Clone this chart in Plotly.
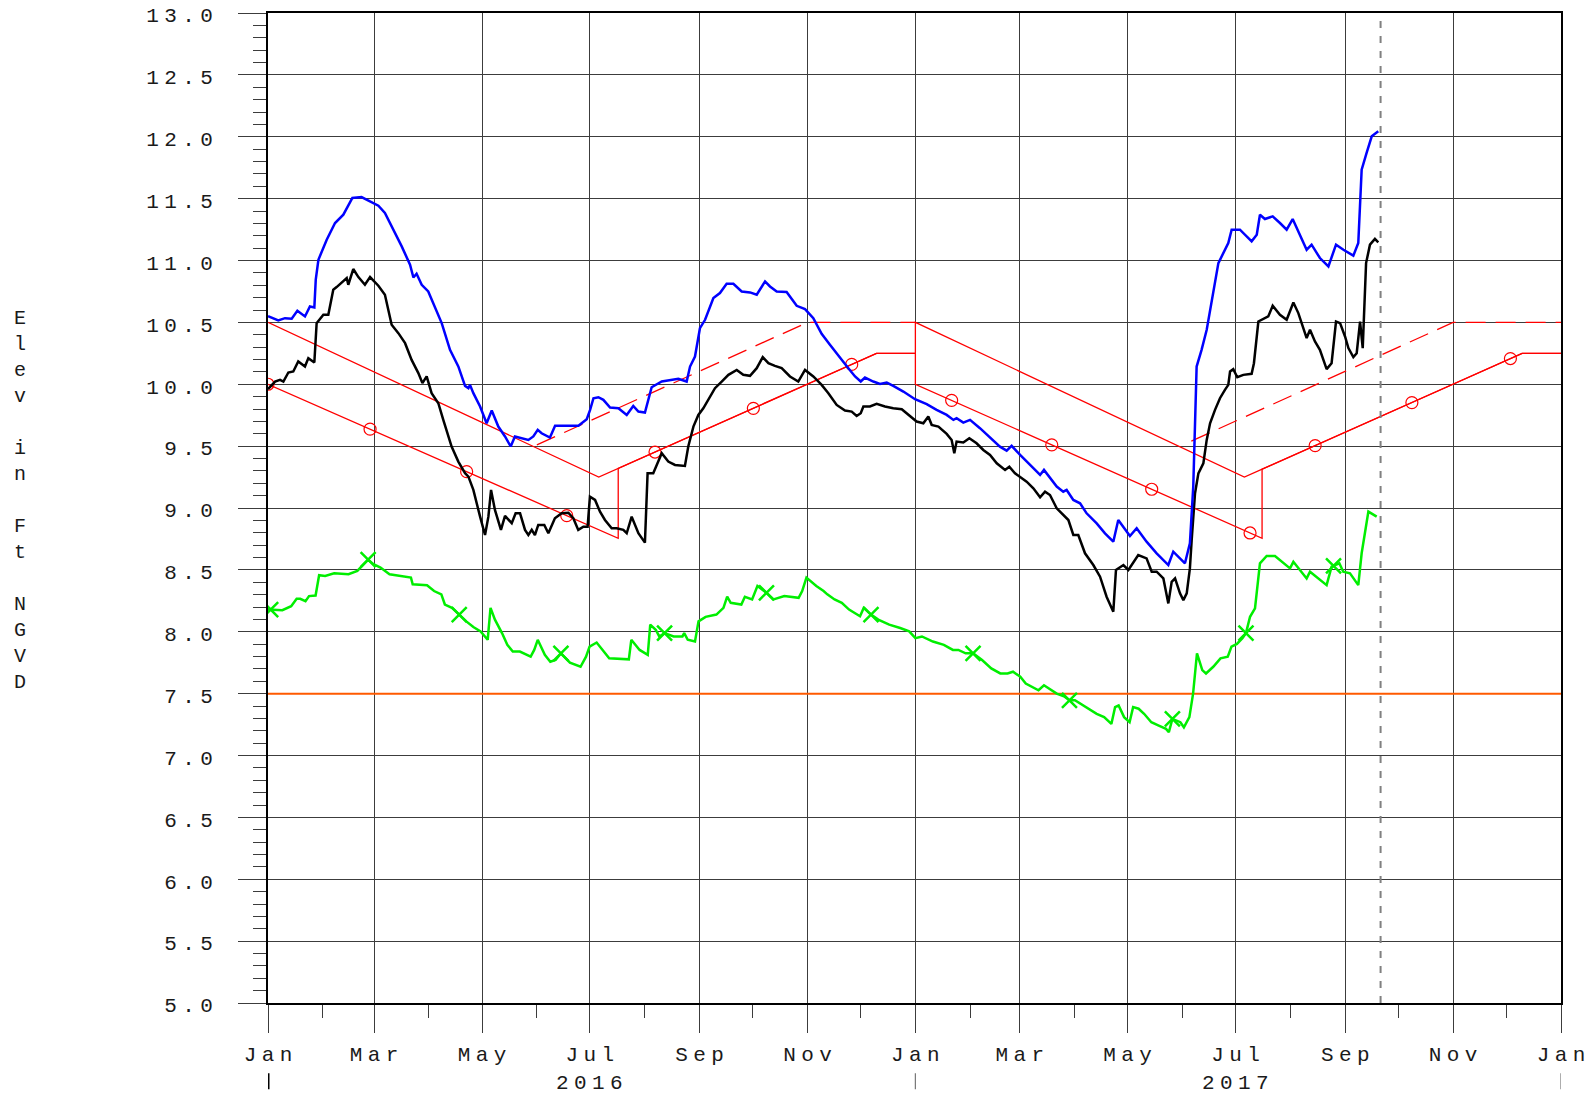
import numpy as np
import pandas as pd
import plotly.graph_objects as go

START = pd.Timestamp("2016-01-01")

# ---- daily stage records: days since 2016-01-01, elevation (ft NGVD) ----
blue_days = [0, 5.8, 9.6, 13.4, 16.6, 20.9, 23.7, 26.2, 27.0, 28.5, 33.2, 37.9, 42.6, 45.4, 47.7,
             52.9, 58.6, 62.4, 66.1, 70.9, 75.6, 80.3, 82.2, 84.0, 86.9, 90.6, 94.4, 98.2, 102.9,
             107.6, 111.4, 113.3, 114.2, 116.1, 119.9, 123.6, 126.5, 130.2, 134.0, 137.2, 139.6,
             143.4, 147.2, 150.0, 152.5, 154.7, 159.4, 162.3, 175.5, 180.2, 182.1, 184.0, 186.8,
             189.6, 193.4, 198.1, 202.8, 206.5, 209.4, 213.1, 216.9, 222.6, 227.3, 232.0, 236.7,
             238.6, 241.4, 244.2, 247.1, 251.8, 255.5, 259.3, 263.1, 267.8, 272.5, 276.3, 281.0,
             283.8, 287.6, 293.2, 298.9, 303.6, 308.3, 313.0, 317.7, 323.4, 328.1, 331.9, 335.1,
             337.5, 342.2, 346.0, 349.8, 353.5, 359.2, 365.8, 368.6, 372.4, 378.0, 383.7, 387.5,
             389.3, 393.1, 396.9, 402.5, 408.2, 413.8, 417.6, 420.4, 425.2, 430.8, 436.5, 438.7,
             442.1, 445.9, 449.6, 451.5, 455.3, 459.1, 462.8, 468.5, 473.2, 477.9, 480.7, 487.3,
             491.1, 496.7, 502.4, 509.0, 511.8, 518.4, 521.2, 523.1, 525.0, 527.8, 530.7, 534.4,
             537.3, 542.9, 544.8, 549.5, 553.3, 556.1, 559.0, 560.8, 563.6, 568.0, 572.1, 575.9,
             579.3, 582.5, 587.2, 590.0, 594.7, 599.5, 603.8, 608.0, 613.6, 616.4, 618.3, 621.1,
             624.0, 627.7]
blue_elev = [10.55, 10.515, 10.534, 10.529, 10.594, 10.548, 10.629, 10.621, 10.845, 11.006, 11.168,
             11.303, 11.370, 11.438, 11.505, 11.513, 11.470, 11.443, 11.384, 11.249, 11.114, 10.966,
             10.863, 10.893, 10.804, 10.750, 10.629, 10.494, 10.278, 10.144, 9.987, 9.968, 9.995,
             9.928, 9.820, 9.685, 9.788, 9.658, 9.578, 9.497, 9.578, 9.564, 9.550, 9.578, 9.631,
             9.604, 9.569, 9.664, 9.664, 9.717, 9.793, 9.887, 9.895, 9.874, 9.812, 9.806, 9.752,
             9.825, 9.779, 9.771, 9.976, 10.022, 10.036, 10.044, 10.022, 10.143, 10.224, 10.453,
             10.521, 10.696, 10.737, 10.812, 10.812, 10.750, 10.742, 10.723, 10.831, 10.790, 10.750,
             10.745, 10.634, 10.607, 10.534, 10.408, 10.319, 10.211, 10.130, 10.063, 10.022, 10.054,
             10.022, 10.003, 10.014, 9.987, 9.941, 9.879, 9.860, 9.839, 9.793, 9.752, 9.712, 9.726,
             9.690, 9.712, 9.645, 9.572, 9.496, 9.464, 9.502, 9.429, 9.348, 9.267, 9.308, 9.240,
             9.173, 9.132, 9.146, 9.065, 9.038, 8.957, 8.876, 8.795, 8.728, 8.903, 8.774, 8.836,
             8.728, 8.634, 8.539, 8.647, 8.553, 8.714, 9.173, 10.143, 10.278, 10.440, 10.737,
             10.979, 11.141, 11.249, 11.249, 11.195, 11.155, 11.208, 11.370, 11.335, 11.357, 11.303,
             11.249, 11.335, 11.235, 11.087, 11.128, 11.020, 10.952, 11.128, 11.087, 11.039, 11.141,
             11.734, 11.869, 12.004, 12.044]

black_days = [0, 4.0, 6.8, 8.7, 11.5, 14.3, 17.1, 20.9, 22.8, 26.2, 27.5, 31.3, 34.1, 36.9, 38.8,
              41.3, 44.5, 45.4, 48.2, 51.1, 54.8, 57.7, 62.4, 66.1, 69.9, 73.7, 77.5, 81.2, 85.0,
              87.3, 89.7, 92.5, 96.3, 99.1, 103.8, 107.6, 111.4, 113.3, 116.1, 119.9, 122.7, 124.6,
              126.1, 128.3, 131.7, 134.0, 137.8, 140.0, 142.5, 145.3, 147.2, 149.1, 150.9, 152.8,
              156.2, 158.5, 162.2, 166.0, 169.8, 172.6, 175.4, 178.3, 180.7, 182.0, 184.9, 187.7,
              190.5, 194.3, 197.1, 200.9, 202.8, 205.6, 209.4, 213.1, 214.6, 217.8, 222.6, 226.3,
              230.1, 235.7, 237.6, 240.5, 243.3, 246.1, 249.9, 252.7, 256.5, 260.3, 265.0, 268.7,
              272.5, 276.3, 279.7, 282.9, 286.6, 290.4, 295.1, 299.8, 303.6, 308.3, 313.0, 316.8,
              321.5, 326.2, 330.0, 332.8, 335.1, 336.6, 340.3, 344.1, 348.8, 353.5, 358.3, 363.0,
              366.7, 370.5, 373.3, 375.2, 379.0, 383.7, 386.5, 388.0, 389.3, 393.1, 396.5, 400.6,
              404.4, 408.2, 412.0, 416.7, 419.1, 422.3, 426.1, 428.9, 432.7, 436.5, 439.3, 442.1,
              445.9, 449.6, 452.5, 455.3, 458.1, 461.9, 466.6, 470.4, 474.1, 477.9, 479.4, 483.6,
              486.4, 492.0, 496.7, 499.6, 502.4, 506.2, 509.0, 510.9, 512.8, 515.6, 517.5, 519.4,
              521.2, 522.2, 524.1, 526.0, 528.8, 530.7, 532.6, 535.4, 538.2, 541.0, 542.9, 543.9,
              545.7, 548.0, 551.4, 556.1, 557.4, 559.9, 562.7, 565.5, 568.0, 572.1, 575.9, 579.7,
              582.5, 585.3, 587.2, 589.1, 591.9, 594.7, 598.5, 601.3, 603.8, 606.1, 608.9, 610.8,
              613.6, 615.5, 617.4, 618.9, 620.8, 623.0, 625.8, 627.7]
black_elev = [9.96, 10.022, 10.036, 10.022, 10.095, 10.103, 10.184, 10.144, 10.211, 10.176, 10.494,
              10.561, 10.561, 10.764, 10.785, 10.818, 10.858, 10.804, 10.931, 10.866, 10.804, 10.866,
              10.796, 10.723, 10.481, 10.413, 10.332, 10.197, 10.090, 10.009, 10.063, 9.928, 9.847,
              9.712, 9.497, 9.375, 9.281, 9.254, 9.146, 8.930, 8.782, 8.930, 9.146, 8.984, 8.823,
              8.936, 8.877, 8.957, 8.957, 8.823, 8.782, 8.823, 8.782, 8.863, 8.863, 8.796, 8.917,
              8.957, 8.962, 8.917, 8.823, 8.849, 8.849, 9.092, 9.065, 8.970, 8.903, 8.836, 8.836,
              8.823, 8.796, 8.930, 8.796, 8.720, 9.281, 9.281, 9.442, 9.375, 9.348, 9.340, 9.497,
              9.658, 9.752, 9.806, 9.901, 9.968, 10.022, 10.076, 10.116, 10.076, 10.068, 10.130,
              10.219, 10.170, 10.149, 10.130, 10.063, 10.022, 10.116, 10.063, 9.995, 9.928, 9.833,
              9.787, 9.779, 9.744, 9.766, 9.820, 9.820, 9.841, 9.820, 9.806, 9.798, 9.739, 9.699,
              9.685, 9.739, 9.672, 9.658, 9.599, 9.550, 9.442, 9.537, 9.529, 9.564, 9.523, 9.469,
              9.429, 9.361, 9.308, 9.334, 9.281, 9.240, 9.213, 9.159, 9.087, 9.132, 9.105, 8.997,
              8.943, 8.903, 8.782, 8.782, 8.634, 8.539, 8.445, 8.283, 8.162, 8.499, 8.539, 8.499,
              8.620, 8.593, 8.485, 8.485, 8.431, 8.229, 8.404, 8.431, 8.310, 8.256, 8.310, 8.512,
              8.741, 9.119, 9.280, 9.361, 9.550, 9.685, 9.793, 9.887, 9.955, 9.995, 10.103, 10.122,
              10.057, 10.076, 10.084, 10.170, 10.507, 10.526, 10.548, 10.634, 10.561, 10.521, 10.661,
              10.575, 10.453, 10.373, 10.440, 10.346, 10.278, 10.122, 10.170, 10.507, 10.494, 10.386,
              10.292, 10.219, 10.251, 10.507, 10.292, 10.979, 11.128, 11.174, 11.146]

green_days = [0, 3.0, 8.1, 13.1, 16.2, 18.2, 21.2, 23.2, 26.9, 28.9, 32.3, 37.4, 45.5, 50.5, 53.5,
              56.6, 59.6, 63.6, 68.7, 75.8, 80.8, 81.8, 89.9, 93.9, 98.0, 100.0, 104.0, 108.1, 112.1,
              116.1, 120.2, 124.2, 125.8, 128.3, 132.3, 135.3, 138.4, 142.4, 148.5, 150.5, 152.5,
              156.5, 159.6, 162.6, 165.6, 170.7, 176.7, 179.8, 181.8, 185.8, 189.9, 192.9, 204.0,
              205.4, 210.1, 214.7, 216.1, 219.2, 221.2, 224.2, 229.3, 234.3, 235.3, 237.3, 241.4,
              243.4, 247.4, 253.5, 257.5, 259.6, 261.6, 267.6, 269.6, 273.7, 276.7, 281.8, 285.8,
              291.9, 300.0, 302.0, 304.4, 310.0, 314.1, 316.2, 320.3, 324.4, 328.5, 332.6, 334.7,
              336.8, 340.9, 345.0, 351.2, 357.4, 362.5, 366.0, 369.7, 375.9, 382.1, 387.2, 390.3,
              394.4, 398.6, 403.7, 408.9, 414.0, 418.1, 421.2, 425.3, 428.4, 432.5, 435.6, 438.7,
              441.8, 445.9, 450.0, 453.1, 456.2, 459.3, 463.4, 468.5, 472.7, 476.8, 478.9, 480.9,
              484.0, 487.1, 489.1, 492.2, 495.3, 499.4, 503.6, 507.7, 509.3, 511.3, 515.8, 517.8,
              520.9, 523.0, 525.2, 528.2, 530.3, 534.4, 538.5, 542.6, 544.7, 547.8, 550.9, 552.9,
              555.2, 558.0, 560.8, 564.6, 569.3, 574.0, 577.8, 579.7, 583.4, 587.2, 589.1, 593.8,
              598.5, 601.3, 605.7, 607.9, 611.7, 616.4, 618.3, 622.1, 626.8]
green_elev = [8.18, 8.179, 8.174, 8.207, 8.266, 8.266, 8.247, 8.288, 8.293, 8.457, 8.451, 8.473,
              8.465, 8.492, 8.533, 8.582, 8.546, 8.519, 8.465, 8.446, 8.438, 8.383, 8.375, 8.329,
              8.302, 8.220, 8.193, 8.139, 8.084, 8.038, 8.003, 7.935, 8.193, 8.098, 7.989, 7.894,
              7.840, 7.840, 7.799, 7.853, 7.935, 7.813, 7.758, 7.772, 7.826, 7.750, 7.717, 7.799,
              7.880, 7.913, 7.840, 7.785, 7.777, 7.935, 7.853, 7.813, 8.057, 8.016, 7.962, 7.989,
              7.962, 7.962, 7.989, 7.935, 7.921, 8.084, 8.120, 8.139, 8.193, 8.283, 8.234, 8.220,
              8.283, 8.261, 8.370, 8.315, 8.261, 8.288, 8.274, 8.329, 8.438, 8.370, 8.329, 8.302,
              8.261, 8.234, 8.179, 8.139, 8.125, 8.193, 8.139, 8.098, 8.057, 8.030, 8.003, 7.948,
              7.962, 7.921, 7.894, 7.853, 7.853, 7.826, 7.826, 7.772, 7.704, 7.663, 7.663, 7.677,
              7.636, 7.582, 7.554, 7.527, 7.568, 7.541, 7.500, 7.478, 7.446, 7.446, 7.418, 7.378,
              7.337, 7.310, 7.255, 7.391, 7.405, 7.310, 7.269, 7.391, 7.378, 7.337, 7.269, 7.242,
              7.215, 7.188, 7.296, 7.269, 7.228, 7.310, 7.500, 7.826, 7.690, 7.663, 7.717, 7.785,
              7.799, 7.880, 7.902, 7.948, 7.989, 8.121, 8.189, 8.553, 8.612, 8.612, 8.553, 8.512,
              8.566, 8.499, 8.431, 8.485, 8.431, 8.377, 8.526, 8.553, 8.485, 8.472, 8.377, 8.634,
              8.971, 8.930]
green_marker_days = [1.5, 56.6, 108.1, 165.6, 224.2, 281.8, 340.9, 398.6, 453.1, 511.3, 552.9, 602.4]

# ---- regulation schedule lines ----
upper_dates = ["2016-01-01", "2016-07-06", "2016-11-01", "2016-12-10", "2017-01-01", "2017-01-01",
               "2017-07-06", "2017-11-01", "2017-12-10", "2018-01-01"]
upper_elev = [10.5, 9.25, 10.0, 10.25, 10.25, 10.5, 9.25, 10.0, 10.25, 10.25]

lower_dates = ["2016-01-01", "2016-07-17", "2016-07-17", "2016-11-01", "2016-12-10", "2017-01-01",
               "2017-01-01", "2017-07-16", "2017-07-16", "2017-11-01", "2017-12-10", "2018-01-01"]
lower_elev = [10.0, 8.755, 9.32, 10.0, 10.25, 10.25, 10.0, 8.755, 9.313, 10.0, 10.25, 10.25]
circle_days = [0, 57.7, 112.3, 168.9, 218.8, 274.4, 330.0, 386.5, 443.1, 499.6, 555.2, 592.0,
               646.7, 702.4]

dashed_dates = ["2016-06-01", "2016-11-01", "2017-01-01", None, "2017-06-06", "2017-11-01",
                "2018-01-01"]
dashed_elev = [9.51, 10.5, 10.5, None, 9.54, 10.5, 10.5]

floor_elev = 7.5
cutoff_date = "2017-09-21"

# ---- axis ticks ----
y_major = [5.0 + 0.5 * i for i in range(17)]
month_ticks = pd.date_range("2016-01-01", "2018-01-01", freq="2MS")
month_minor = pd.date_range("2016-02-01", "2017-12-01", freq="2MS")
month_labels = ["Jan", "Mar", "May", "Jul", "Sep", "Nov",
                "Jan", "Mar", "May", "Jul", "Sep", "Nov", "Jan"]
year_labels = ["2016", "2017"]
year_centers = ["2016-07-01", "2017-07-01"]
year_marks = ["2016-01-01", "2017-01-01", "2018-01-01"]
y_title = "Elev in Ft NGVD"

FONT = "Liberation Mono"
INK = "#1a1a1a"
GRID = "#3c3c3c"


def spaced(s, gap=9):
    sep = '<span style="font-size:%dpx"> </span>' % gap
    return sep.join(s)


def to_dates(days):
    return START + pd.to_timedelta(np.asarray(days, dtype=float), unit="D")


def day_num(dates):
    return np.array([(pd.Timestamp(d) - START) / pd.Timedelta(days=1) for d in dates])


fig = go.Figure()

# 7.5 ft reference level
fig.add_trace(go.Scatter(x=[START, pd.Timestamp("2018-01-01")], y=[floor_elev, floor_elev],
                         mode="lines", line=dict(color="#ff5a00", width=2), hoverinfo="skip"))

# schedule lines
fig.add_trace(go.Scatter(x=pd.to_datetime(upper_dates), y=upper_elev, mode="lines",
                         line=dict(color="#ff0000", width=1.3)))
fig.add_trace(go.Scatter(x=pd.to_datetime(lower_dates), y=lower_elev, mode="lines",
                         line=dict(color="#ff0000", width=1.3)))
fig.add_trace(go.Scatter(x=[pd.Timestamp(d) if d else None for d in dashed_dates], y=dashed_elev,
                         mode="lines", connectgaps=False,
                         line=dict(color="#ff0000", width=1.3, dash="20px,10px")))
lower_x = day_num(lower_dates)
circle_y = np.interp(circle_days, lower_x, lower_elev)
fig.add_trace(go.Scatter(x=to_dates(circle_days), y=circle_y, mode="markers",
                         marker=dict(symbol="circle-open", size=12, color="#ff0000",
                                     line=dict(width=1.2, color="#ff0000"))))

# stage records
fig.add_trace(go.Scatter(x=to_dates(green_days), y=green_elev, mode="lines",
                         line=dict(color="#00ee00", width=2.5)))
fig.add_trace(go.Scatter(x=to_dates(green_marker_days),
                         y=np.interp(green_marker_days, green_days, green_elev), mode="markers",
                         marker=dict(symbol="x-thin-open", size=15, color="#00ee00",
                                     line=dict(width=2.5, color="#00ee00"))))
fig.add_trace(go.Scatter(x=to_dates(black_days), y=black_elev, mode="lines",
                         line=dict(color="#000000", width=2.5)))
fig.add_trace(go.Scatter(x=to_dates(blue_days), y=blue_elev, mode="lines",
                         line=dict(color="#0000ff", width=2.5)))

# end-of-record marker
fig.add_shape(type="line", x0=cutoff_date, x1=cutoff_date, y0=0, y1=1, xref="x", yref="paper",
              line=dict(color="#808080", width=2, dash="7px,8px"))

# year separators and labels under the month axis
for i, d in enumerate(year_marks):
    fig.add_shape(type="line", x0=d, x1=d, y0=-0.071, y1=-0.087, xref="x", yref="paper",
                  line=dict(color="#000000" if i == 0 else "#777777", width=3 if i == 0 else 1.2))
for lab, d in zip(year_labels, year_centers):
    fig.add_annotation(x=d, y=-0.081, xref="x", yref="paper", text=spaced(lab),
                       showarrow=False, xanchor="center", yanchor="middle",
                       font=dict(family=FONT, size=21, color=INK))

# vertical axis title, one letter per line
fig.add_annotation(x=-0.192, y=0.508, xref="paper", yref="paper",
                   text="<br>".join(c if c != " " else "\u00a0" for c in y_title),
                   showarrow=False, xanchor="center", yanchor="middle", align="center",
                   font=dict(family=FONT, size=20, color=INK))

fig.update_layout(
    width=1591, height=1094,
    margin=dict(l=268, r=30, t=13, b=91, autoexpand=False),
    paper_bgcolor="white", plot_bgcolor="white",
    showlegend=False,
    xaxis=dict(
        type="date", range=["2016-01-01", "2018-01-01"], automargin=False,
        tickmode="array", tickvals=list(month_ticks),
        ticktext=[spaced(m) for m in month_labels],
        ticks="outside", ticklen=28, tickwidth=1.3, tickcolor=GRID,
        ticklabelstandoff=3,
        showgrid=True, gridcolor=GRID, gridwidth=1.2,
        showline=True, linecolor="#000000", linewidth=2, mirror=True,
        zeroline=False,
        tickfont=dict(family=FONT, size=21, color=INK),
        minor=dict(tickmode="array", tickvals=list(month_minor), ticks="outside",
                   ticklen=13, tickwidth=1.3, tickcolor=GRID, showgrid=False),
    ),
    yaxis=dict(
        range=[5.0, 13.0], automargin=False,
        tickmode="array", tickvals=y_major,
        ticktext=[spaced("%.1f" % v) for v in y_major],
        ticks="outside", ticklen=28, tickwidth=1.3, tickcolor=GRID,
        ticklabelstandoff=21, ticklabelshift=2,
        showgrid=True, gridcolor=GRID, gridwidth=1.2,
        showline=True, linecolor="#000000", linewidth=2, mirror=True,
        zeroline=False,
        tickfont=dict(family=FONT, size=21, color=INK),
        minor=dict(dtick=0.1, tick0=5.0, ticks="outside", ticklen=13, tickwidth=1.3,
                   tickcolor=GRID, showgrid=False),
    ),
)

fig.write_html("out.html")
